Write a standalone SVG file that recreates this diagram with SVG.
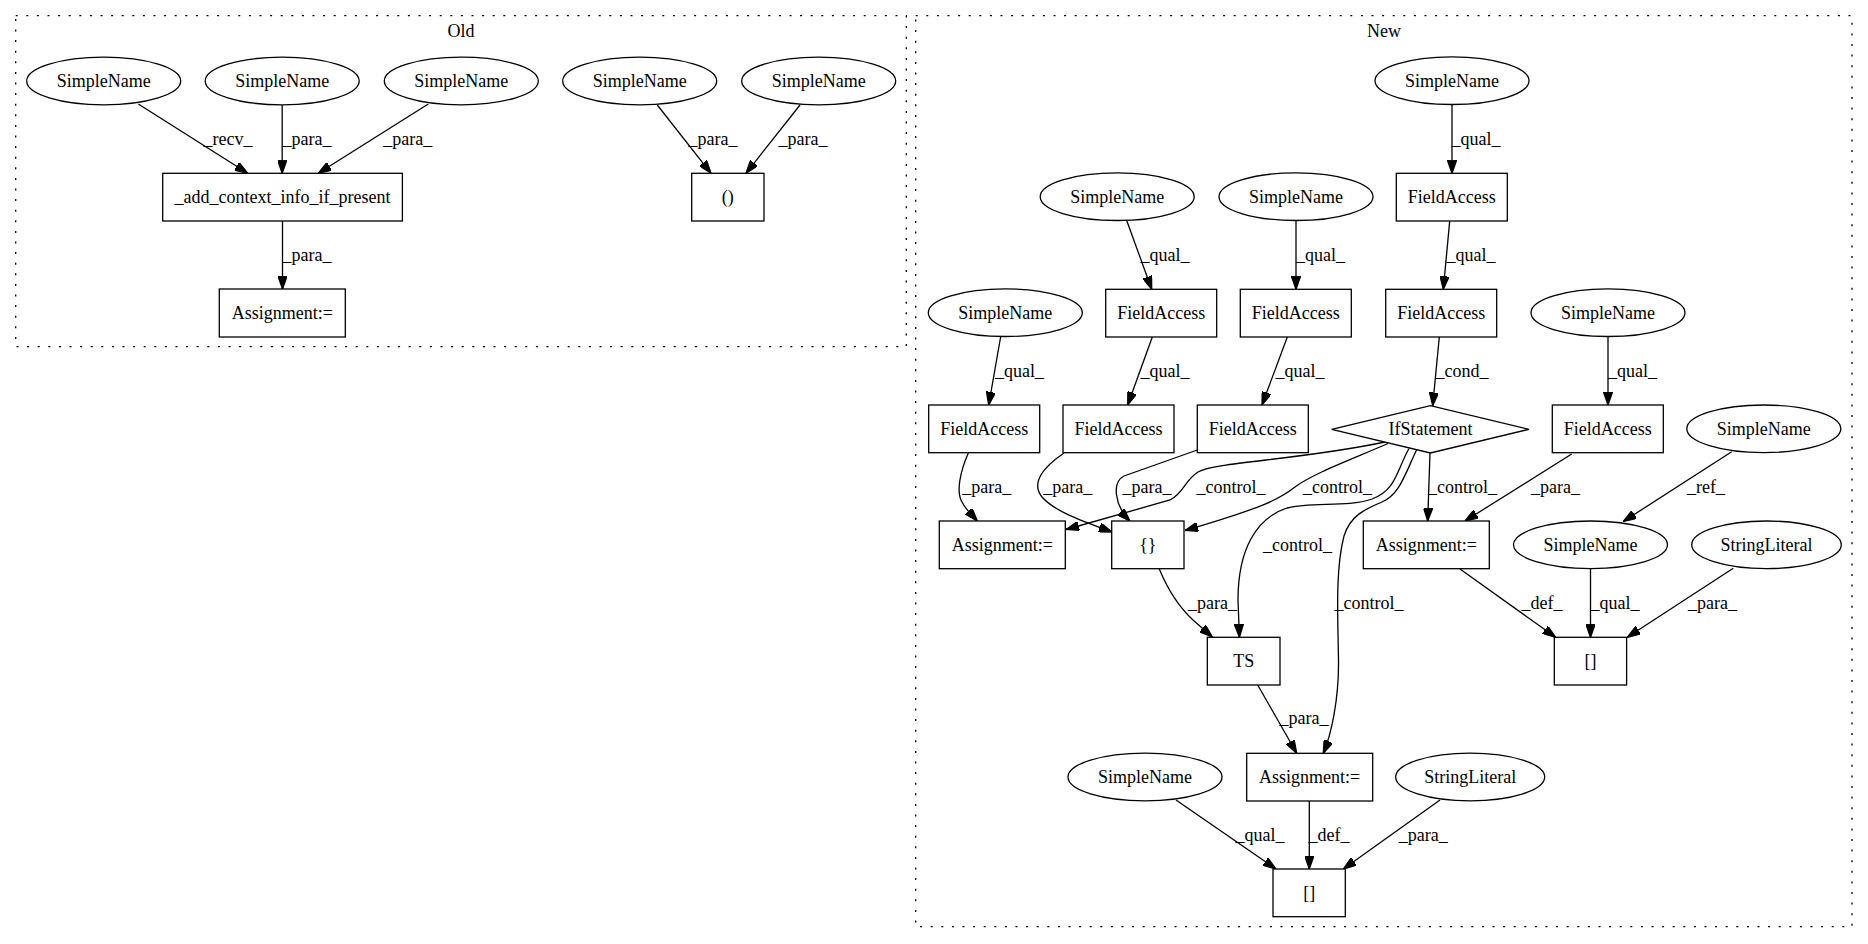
<svg xmlns="http://www.w3.org/2000/svg" width="1868" height="944" viewBox="0 0 1868 944">
<defs>
<marker id="arr" markerUnits="userSpaceOnUse" markerWidth="13.1" markerHeight="9.2" viewBox="0 0 10 7" refX="10" refY="3.5" orient="auto">
<path d="M0,0 L10,3.5 L0,7 z" fill="#000" stroke="#000" stroke-width="1"/>
</marker>
</defs>
<style>
.cl{fill:none;stroke:#000;stroke-width:1.3;stroke-dasharray:2,8.6}
.n ellipse,.n rect,.n polygon{fill:#fff;stroke:#000;stroke-width:1.3}
text{font-family:"Liberation Serif","Times New Roman",serif;font-size:18px;fill:#000}
.n text{text-anchor:middle}
.e path{fill:none;stroke:#000;stroke-width:1.3;marker-end:url(#arr)}
.e text{text-anchor:middle}
</style>
<rect width="1868" height="944" fill="#fff"/>
<g id="cluster_old">
<rect class="cl" x="15.7" y="15.7" width="890.6" height="331"/>
<text x="461" y="37" text-anchor="middle">Old</text>
</g>
<g id="cluster_new">
<rect class="cl" x="915.7" y="15.7" width="936.3" height="911"/>
<text x="1384" y="37" text-anchor="middle">New</text>
</g>
<g id="connectors" class="e">
<path d="M138.3,104 L247.7,173.3"/><text x="228" y="145">_recv_</text>
<path d="M282.2,105 L282.2,173.3"/><text x="307" y="145">_para_</text>
<path d="M428.3,104 L318.3,173.3"/><text x="407.7" y="145">_para_</text>
<path d="M282.5,221 L282.5,289"/><text x="307" y="261">_para_</text>
<path d="M657.3,105 L711,173.3"/><text x="713" y="145">_para_</text>
<path d="M800,105 L746,173.3"/><text x="803" y="145">_para_</text>
<path d="M1452,104.5 L1452,173.3"/><text x="1476" y="145">_qual_</text>
<path d="M1449.7,221 L1443.3,289.3"/><text x="1471" y="261">_qual_</text>
<path d="M1126.7,220.5 L1151.7,289.3"/><text x="1165" y="261">_qual_</text>
<path d="M1296,220.5 L1296,289.3"/><text x="1320.5" y="261">_qual_</text>
<path d="M1000.7,336.5 L988.7,405"/><text x="1019.5" y="376.7">_qual_</text>
<path d="M1152.3,337 L1127.7,405"/><text x="1165" y="376.7">_qual_</text>
<path d="M1287.3,337 L1262,405"/><text x="1300" y="376.7">_qual_</text>
<path d="M1439.3,337 L1432.7,405.6"/><text x="1462" y="376.7">_cond_</text>
<path d="M1608,336.5 L1608,405"/><text x="1632.5" y="376.7">_qual_</text>
<path d="M968.3,453 C960,472 956,492 962,502 C966,510 972,515 977.3,521"/><text x="986.7" y="492.7">_para_</text>
<path d="M1064,453 C1045,466 1030,482 1042,497 C1055,512 1085,522 1112,532"/><text x="1067.8" y="492.7">_para_</text>
<path d="M1197.3,450 L1124,476 C1112,482 1114,505 1130,521"/><text x="1147" y="492.7">_para_</text>
<path d="M1385,442 C1300,460 1215,462 1198,472 C1184,481 1184,493 1170,500 L1066,529.5"/><text x="1231" y="492.7">_control_</text>
<path d="M1388,443.5 C1350,460 1312,474 1295,487 C1280,499 1262,508 1185,530.5"/><text x="1337.5" y="492.7">_control_</text>
<path d="M1409,448.5 C1396,472 1396,490 1372,499 C1346,508 1312,501 1287,508 C1256,518 1238,550 1238,600 L1239.4,637.3"/><text x="1297.5" y="551">_control_</text>
<path d="M1417,449 C1405,474 1400,494 1382,502 C1365,509 1350,516 1344,536 C1335,570 1338,620 1338.5,660 C1339,700 1331,735 1323.3,753.3"/><text x="1369" y="609.3">_control_</text>
<path d="M1430,453 L1427.7,521"/><text x="1462.5" y="492.7">_control_</text>
<path d="M1571.7,454 L1465,521"/><text x="1555.5" y="492.7">_para_</text>
<path d="M1731.7,451.7 L1623.3,521.5"/><text x="1706" y="492.7">_ref_</text>
<path d="M1159.3,569 C1168,590 1180,608 1193,620 L1212.3,637"/><text x="1212.5" y="609.3">_para_</text>
<path d="M1460,569 L1555.7,637.3"/><text x="1542" y="609.3">_def_</text>
<path d="M1590.5,568.5 L1590.5,637.3"/><text x="1615" y="609.3">_qual_</text>
<path d="M1733.3,568.3 L1627.3,637.3"/><text x="1712.5" y="609.3">_para_</text>
<path d="M1257.7,685 L1296.7,753.3"/><text x="1304" y="724.3">_para_</text>
<path d="M1176,800 L1276,869"/><text x="1260" y="841">_qual_</text>
<path d="M1309.3,801 L1309.3,869"/><text x="1329" y="841">_def_</text>
<path d="M1440,800 L1343.3,869"/><text x="1423.3" y="841">_para_</text>
</g>
<g id="old_sn1" class="n"><ellipse cx="103.7" cy="81" rx="77" ry="23.8"/><text x="103.7" y="87">SimpleName</text></g>
<g id="old_sn2" class="n"><ellipse cx="282.2" cy="81" rx="77" ry="23.8"/><text x="282.2" y="87">SimpleName</text></g>
<g id="old_sn3" class="n"><ellipse cx="461.3" cy="81" rx="77" ry="23.8"/><text x="461.3" y="87">SimpleName</text></g>
<g id="old_sn4" class="n"><ellipse cx="639.7" cy="81" rx="77" ry="23.8"/><text x="639.7" y="87">SimpleName</text></g>
<g id="old_sn5" class="n"><ellipse cx="818.7" cy="81" rx="77" ry="23.8"/><text x="818.7" y="87">SimpleName</text></g>
<g id="old_add" class="n"><rect x="162.7" y="173.3" width="239.7" height="47.7"/><text x="282.5" y="203">_add_context_info_if_present</text></g>
<g id="old_assign" class="n"><rect x="219.3" y="289" width="126" height="48"/><text x="282.3" y="319">Assignment:=</text></g>
<g id="old_paren" class="n"><rect x="691.7" y="173.3" width="72.3" height="47.7"/><text x="727.8" y="203">()</text></g>
<g id="new_sn_top" class="n"><ellipse cx="1452" cy="80.7" rx="77" ry="23.8"/><text x="1452" y="86.7">SimpleName</text></g>
<g id="new_fa_top" class="n"><rect x="1396.3" y="173.3" width="111" height="47.7"/><text x="1451.8" y="203">FieldAccess</text></g>
<g id="new_sn_2a" class="n"><ellipse cx="1117.2" cy="196.7" rx="77" ry="23.8"/><text x="1117.2" y="202.7">SimpleName</text></g>
<g id="new_sn_2b" class="n"><ellipse cx="1296" cy="196.7" rx="77" ry="23.8"/><text x="1296" y="202.7">SimpleName</text></g>
<g id="new_fa_3a" class="n"><rect x="1105.7" y="289.3" width="111" height="47.7"/><text x="1161.2" y="319">FieldAccess</text></g>
<g id="new_fa_3b" class="n"><rect x="1240.3" y="289.3" width="111" height="47.7"/><text x="1295.8" y="319">FieldAccess</text></g>
<g id="new_fa_3c" class="n"><rect x="1385.7" y="289.3" width="111" height="47.7"/><text x="1441.2" y="319">FieldAccess</text></g>
<g id="new_sn_3l" class="n"><ellipse cx="1005.3" cy="312.7" rx="77" ry="23.8"/><text x="1005.3" y="318.7">SimpleName</text></g>
<g id="new_sn_3r" class="n"><ellipse cx="1608" cy="312.7" rx="77" ry="23.8"/><text x="1608" y="318.7">SimpleName</text></g>
<g id="new_fa_4a" class="n"><rect x="928.7" y="405" width="111" height="47.7"/><text x="984.2" y="434.8">FieldAccess</text></g>
<g id="new_fa_4b" class="n"><rect x="1063" y="405" width="111" height="47.7"/><text x="1118.5" y="434.8">FieldAccess</text></g>
<g id="new_fa_4c" class="n"><rect x="1197.3" y="405" width="111" height="47.7"/><text x="1252.8" y="434.8">FieldAccess</text></g>
<g id="new_fa_4d" class="n"><rect x="1552.3" y="405" width="111" height="47.7"/><text x="1607.8" y="434.8">FieldAccess</text></g>
<g id="new_if" class="n"><polygon points="1331.7,429.3 1430.4,405.6 1529,429.3 1430.4,453"/><text x="1430.4" y="435.3">IfStatement</text></g>
<g id="new_sn_4r" class="n"><ellipse cx="1763.8" cy="428.8" rx="77" ry="23.8"/><text x="1763.8" y="434.8">SimpleName</text></g>
<g id="new_as_5a" class="n"><rect x="939.3" y="521" width="126" height="47.7"/><text x="1002.3" y="550.8">Assignment:=</text></g>
<g id="new_brace" class="n"><rect x="1111.7" y="521" width="72.3" height="47.7"/><text x="1147.8" y="550.8">{}</text></g>
<g id="new_as_5b" class="n"><rect x="1363.3" y="521" width="126" height="47.7"/><text x="1426.3" y="550.8">Assignment:=</text></g>
<g id="new_sn_5" class="n"><ellipse cx="1590.5" cy="544.8" rx="77" ry="23.8"/><text x="1590.5" y="550.8">SimpleName</text></g>
<g id="new_sl_5" class="n"><ellipse cx="1766.5" cy="544.8" rx="74.8" ry="23.8"/><text x="1766.5" y="550.8">StringLiteral</text></g>
<g id="new_ts" class="n"><rect x="1207.3" y="637.3" width="72.7" height="47.7"/><text x="1243.7" y="667">TS</text></g>
<g id="new_sq_6" class="n"><rect x="1554.3" y="637.3" width="72.3" height="47.7"/><text x="1590.5" y="667">[]</text></g>
<g id="new_sn_7" class="n"><ellipse cx="1145" cy="777" rx="77" ry="23.8"/><text x="1145" y="783">SimpleName</text></g>
<g id="new_as_7" class="n"><rect x="1246.7" y="753.3" width="126" height="47.7"/><text x="1309.7" y="783">Assignment:=</text></g>
<g id="new_sl_7" class="n"><ellipse cx="1470.2" cy="777" rx="74.5" ry="23.8"/><text x="1470.2" y="783">StringLiteral</text></g>
<g id="new_sq_8" class="n"><rect x="1273" y="869" width="72.3" height="47.7"/><text x="1309.2" y="898.8">[]</text></g>
</svg>
